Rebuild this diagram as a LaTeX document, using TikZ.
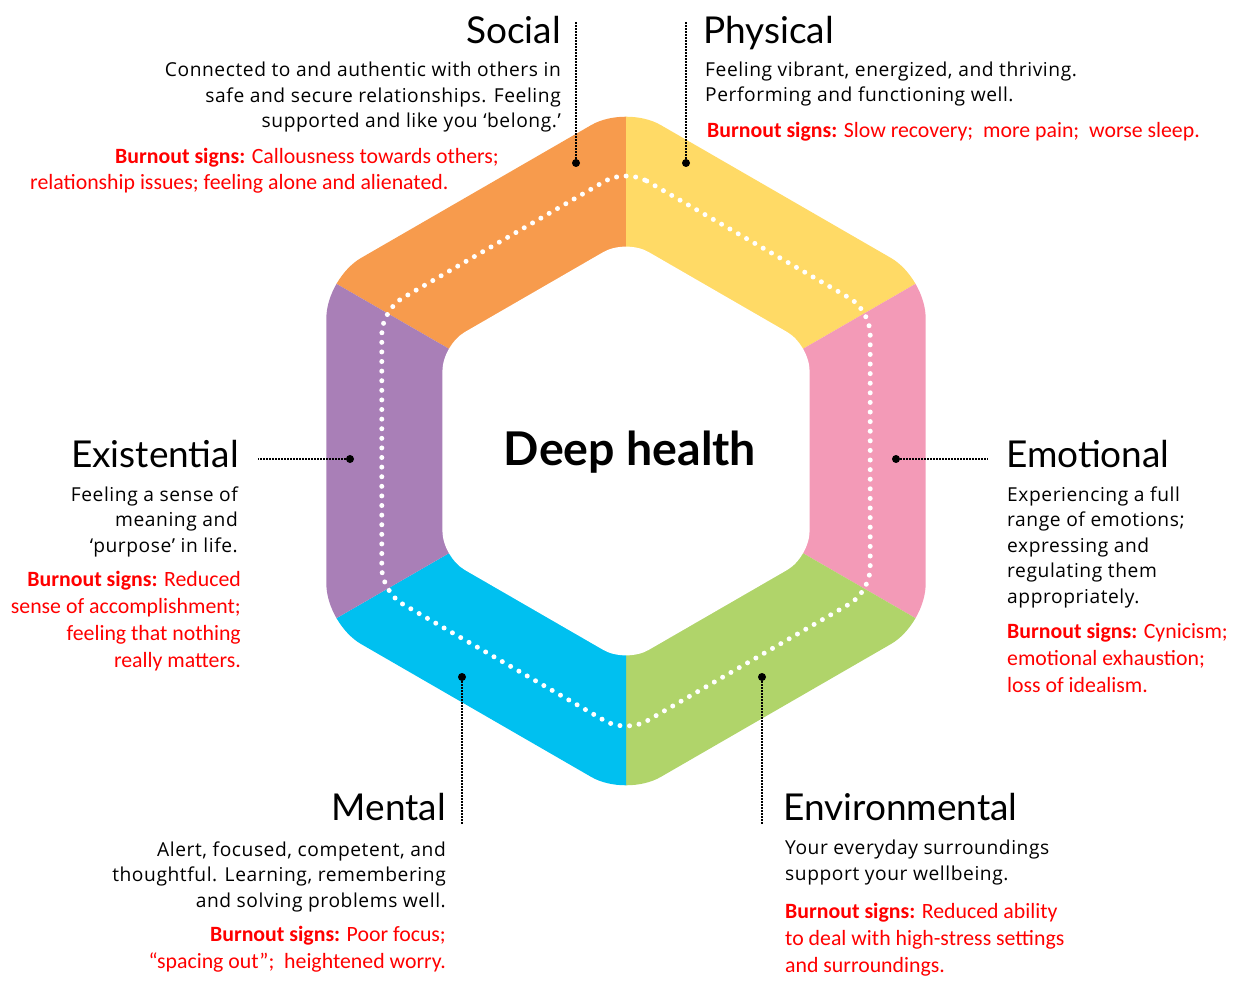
\documentclass[tikz,border=0pt]{standalone}
\usepackage{fontspec}
\setmainfont{Lato}
\newfontfamily\bodyfont[LetterSpace=3]{Open Sans}
\newfontfamily\burnfont{Carlito}
\definecolor{socialc}{RGB}{247,155,77}
\definecolor{physicalc}{RGB}{255,218,102}
\definecolor{emotionalc}{RGB}{243,154,183}
\definecolor{environc}{RGB}{176,212,106}
\definecolor{mentalc}{RGB}{0,192,240}
\definecolor{existc}{RGB}{169,127,183}
\definecolor{burnred}{RGB}{255,0,0}
\tikzset{
  title/.style={inner sep=0pt, font=\fontsize{37}{40}\selectfont},
  body/.style={inner sep=0pt, font=\bodyfont\fontsize{19.2}{25.5}\selectfont},
  burn/.style={inner sep=0pt, text=burnred, font=\burnfont\fontsize{21.8}{26.8}\selectfont},
  dot/.style={circle, fill=black, inner sep=0pt, minimum size=8pt},
  leader/.style={line width=1.4pt, dash pattern=on 1.4pt off 1.6pt}
}
\newcommand{\burnlabel}{\textbf{Burnout signs:}}
\begin{document}
\begin{tikzpicture}[x=1pt,y=-1pt]
  \useasboundingbox (0,0) rectangle (1240,995);

  % Ring
  \begin{scope}[shift={(626,451)}]
    \begin{scope}
      \clip[rounded corners=40pt] (-90:346) -- (-30:346) -- (30:346) -- (90:346) -- (150:346) -- (210:346) -- cycle;
      \fill[socialc] (0,0) -- (-90:500) -- (-150:500) -- cycle;
      \fill[physicalc] (0,0) -- (-30:500) -- (-90:500) -- cycle;
      \fill[emotionalc] (0,0) -- (30:500) -- (-30:500) -- cycle;
      \fill[environc] (0,0) -- (90:500) -- (30:500) -- cycle;
      \fill[mentalc] (0,0) -- (150:500) -- (90:500) -- cycle;
      \fill[existc] (0,0) -- (210:500) -- (150:500) -- cycle;
    \end{scope}
    \fill[white, rounded corners=26pt] (-90:212) -- (-30:212) -- (30:212) -- (90:212) -- (150:212) -- (210:212) -- cycle;
    \draw[white, line width=5pt, line cap=round, dash pattern=on 0pt off 9.6pt, rounded corners=24pt]
      (-90:282) -- (-30:282) -- (30:282) -- (90:282) -- (150:282) -- (210:282) -- cycle;
  \end{scope}

  \node[inner sep=0pt, font=\bfseries\fontsize{46.5}{50}\selectfont] (deep) at (630,452) {Deep health};

  % Social
  \node[dot] (socialdot) at (576,163) {};
  \coordinate (socialend) at (576,21);
  \draw[leader] (socialdot) -- (socialend);
  \node[title, anchor=base east] (socialtitle) at (561,44) {Social};
  \node[body, anchor=base east, align=right] (socialtext) at (561,128)
    {Connected to and authentic with others in\\safe and secure relationships. Feeling\\supported and like you ‘belong.’};
  \node[burn, anchor=base west, align=left] (socialburn) at (30,190)
    {\hspace*{85pt}\burnlabel{} Callousness towards others;\\relationship issues; feeling alone and alienated.};

  % Physical
  \node[dot] (physdot) at (686,163) {};
  \coordinate (physend) at (686,21);
  \draw[leader] (physdot) -- (physend);
  \node[title, anchor=base west] (phystitle) at (703,44) {Physical};
  \node[body, anchor=base west, align=left] (phystext) at (705,102)
    {Feeling vibrant, energized, and thriving.\\Performing and functioning well.};
  \node[burn, anchor=base west, align=left] (physburn) at (707,138)
    {\burnlabel{} Slow recovery;\ \ more pain;\ \ worse sleep.};

  % Existential
  \node[dot] (existdot) at (350,459) {};
  \coordinate (existend) at (258,459);
  \draw[leader] (existdot) -- (existend);
  \node[title, anchor=base east] (existtitle) at (239,467) {Existential};
  \node[body, anchor=base east, align=right] (existtext) at (238,552)
    {Feeling a sense of\\meaning and\\‘purpose’ in life.};
  \node[burn, anchor=base east, align=right] (existburn) at (241,667)
    {\burnlabel{} Reduced\\sense of accomplishment;\\feeling that nothing\\really matters.};

  % Emotional
  \node[dot] (emodot) at (896,459) {};
  \coordinate (emoend) at (988,459);
  \draw[leader] (emodot) -- (emoend);
  \node[title, anchor=base west] (emotitle) at (1006,467) {Emotional};
  \node[body, anchor=base west, align=left] (emotext) at (1007,603)
    {Experiencing a full\\range of emotions;\\expressing and\\regulating them\\appropriately.};
  \node[burn, anchor=base west, align=left] (emoburn) at (1007,692)
    {\burnlabel{} Cynicism;\\emotional exhaustion;\\loss of idealism.};

  % Mental
  \node[dot] (mentdot) at (462,677) {};
  \coordinate (mentend) at (462,825);
  \draw[leader] (mentdot) -- (mentend);
  \node[title, anchor=base east] (menttitle) at (446,820) {Mental};
  \node[body, anchor=base east, align=right] (menttext) at (446,907)
    {Alert, focused, competent, and\\thoughtful. Learning, remembering\\and solving problems well.};
  \node[burn, anchor=base east, align=right] (mentburn) at (446,968)
    {\burnlabel{} Poor focus;\\“spacing out”;\ \ heightened worry.};

  % Environmental
  \node[dot] (envdot) at (762,677) {};
  \coordinate (envend) at (762,825);
  \draw[leader] (envdot) -- (envend);
  \node[title, anchor=base west] (envtitle) at (783,820) {Environmental};
  \node[body, anchor=base west, align=left] (envtext) at (785,880)
    {Your everyday surroundings\\support your wellbeing.};
  \node[burn, anchor=base west, align=left] (envburn) at (785,972)
    {\burnlabel{} Reduced ability\\to deal with high-stress settings\\and surroundings.};
\end{tikzpicture}
\end{document}
